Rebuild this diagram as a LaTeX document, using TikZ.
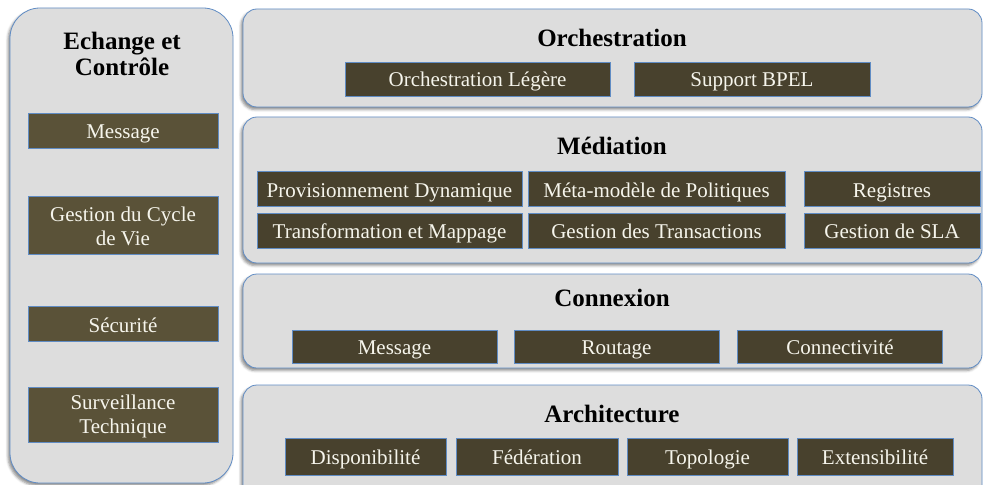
\documentclass[tikz,border=0pt]{standalone}
\usepackage{fontspec}
\setmainfont{Liberation Serif}
\usepackage{tikz}
\usetikzlibrary{
    shadows.blur
}
\definecolor{panelgray}{RGB}{221, 221, 221}
\definecolor{paneledge}{RGB}{96, 140, 196}
\definecolor{olivedark}{RGB}{72, 65, 45}
\definecolor{olivelight}{RGB}{90, 82, 56}
\definecolor{boxtext}{RGB}{246, 245, 236}
\tikzstyle{layer} = [
    rectangle,
    rounded corners=14pt,
    draw=paneledge,
    fill=panelgray,
    line width=0.8pt,
    blur shadow={shadow xshift=-2pt, shadow yshift=-2.5pt, shadow blur radius=2.5pt, shadow opacity=45}
]
\tikzstyle{layertitle} = [
    font=\fontsize{25}{26}\selectfont\bfseries,
    align=center,
    inner sep=0pt
]

\begin{document}
\begin{tikzpicture}[
    x=1pt, y=-1pt,
    modbox/.style={rectangle, draw=paneledge, line width=0.6pt, fill=olivedark, text=boxtext, inner sep=0pt, minimum height=35pt, font=\fontsize{21}{24}\selectfont, align=center},
    module/.style={modbox, text height=18pt, text depth=2pt},
    sidemodule/.style={modbox, fill=olivelight, minimum width=190pt}
]
    \useasboundingbox (0,0) rectangle (984,484);

    % Echange et Controle
    \node[layer, rounded corners=30pt, minimum width=223pt, minimum height=475pt] (ctrl) at (121.5,245.5) {};
    \node[layertitle] (ctrltitle) at (122,54) {Echange et\\Contrôle};
    \node[sidemodule, text height=18pt, text depth=2pt] (ctrlmsg) at (123,131) {Message};
    \node[sidemodule, minimum height=58pt, text height=45pt, text depth=5pt] (ctrlcycle) at (123,225) {Gestion du Cycle\\de Vie};
    \node[sidemodule, text height=18pt, text depth=2pt] (ctrlsec) at (123,324) {Sécurité};
    \node[sidemodule, minimum height=55pt, text height=42pt, text depth=5pt] (ctrlsurv) at (123,414.5) {Surveillance\\Technique};

    % Orchestration
    \node[layer, minimum width=739pt, minimum height=98pt] (orch) at (612.5,58) {};
    \node[layertitle] (orchtitle) at (612,38) {Orchestration};
    \node[module, minimum width=265pt, minimum height=34pt] (orchlight) at (477.5,79) {Orchestration Légère};
    \node[module, minimum width=236pt, minimum height=34pt] (orchbpel) at (752,79) {Support BPEL};

    % Mediation
    \node[layer, minimum width=739pt, minimum height=146pt] (med) at (612.5,190) {};
    \node[layertitle] (medtitle) at (612,146) {Médiation};
    \node[module, minimum width=265pt] (medprov) at (389.5,189) {Provisionnement Dynamique};
    \node[module, minimum width=257pt] (medmeta) at (656.5,189) {Méta-modèle de Politiques};
    \node[module, minimum width=176pt] (medreg) at (892,189) {Registres};
    \node[module, minimum width=265pt] (medtrans) at (389.5,230.5) {Transformation et Mappage};
    \node[module, minimum width=257pt] (medtx) at (656.5,230.5) {Gestion des Transactions};
    \node[module, minimum width=176pt] (medsla) at (892,230.5) {Gestion de SLA};

    % Connexion
    \node[layer, minimum width=739pt, minimum height=94pt] (conn) at (612.5,321) {};
    \node[layertitle] (conntitle) at (612,298) {Connexion};
    \node[module, minimum width=205pt, minimum height=33pt] (connmsg) at (394.5,346.5) {Message};
    \node[module, minimum width=205pt, minimum height=33pt] (connroute) at (616.5,346.5) {Routage};
    \node[module, minimum width=205pt, minimum height=33pt] (conncon) at (840,346.5) {Connectivité};

    % Architecture
    \node[layer, minimum width=739pt, minimum height=115pt] (arch) at (612.5,442.5) {};
    \node[layertitle] (archtitle) at (612,414) {Architecture};
    \node[module, minimum width=161pt, minimum height=37pt] (archdisp) at (365.5,456.5) {Disponibilité};
    \node[module, minimum width=162pt, minimum height=37pt] (archfed) at (537,456.5) {Fédération};
    \node[module, minimum width=161pt, minimum height=37pt] (archtopo) at (707.5,456.5) {Topologie};
    \node[module, minimum width=156pt, minimum height=37pt] (archext) at (875,456.5) {Extensibilité};

\end{tikzpicture}
\end{document}
